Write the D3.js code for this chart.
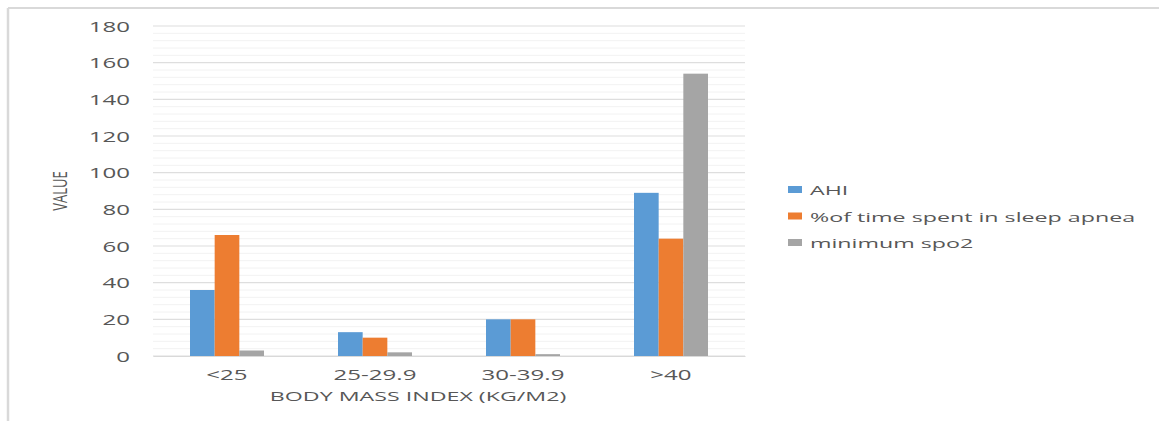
<!DOCTYPE html>
<html><head><meta charset="utf-8">
<script src="https://cdn.jsdelivr.net/npm/d3@7"></script>
<style>body{margin:0;background:#fff}svg{display:block}</style>
</head><body>
<script>
const categories = ["<25", "25-29.9", "30-39.9", ">40"];
const seriesNames = ["AHI", "%of time spent in sleep apnea", "minimum spo2"];
const ahi = [36, 13, 20, 89];
const timeInApnea = [66, 10, 20, 64];
const minSpo2 = [3, 2, 1, 154];
const yTicks = [0, 20, 40, 60, 80, 100, 120, 140, 160, 180];
const colors = ["#5B9BD5", "#ED7D31", "#A5A5A5"];
const seriesValues = [ahi, timeInApnea, minSpo2];

const W = 1159, H = 421;
const margin = {left: 153, right: 414, top: 26, bottom: 65};
const SX = 1.72;
const font = "'Open Sans', sans-serif";
const txt = "#575757";
const svg = d3.select("body").append("svg").attr("width", W).attr("height", H);

// chart border
svg.append("line").attr("x1", 8).attr("x2", W).attr("y1", 8).attr("y2", 8).attr("stroke", "#d9d9d9").attr("stroke-width", 2);
svg.append("line").attr("x1", 8).attr("x2", 8).attr("y1", 8).attr("y2", H).attr("stroke", "#d9d9d9").attr("stroke-width", 2.5);

const x0 = margin.left, x1 = W - margin.right;
const yTop = margin.top, yBot = H - margin.bottom;
const y = d3.scaleLinear().domain([0, 180]).range([yBot, yTop]);
const x = d3.scaleBand().domain(categories).range([x0, x1]).paddingInner(0.5).paddingOuter(0.25);
const xs = d3.scaleBand().domain(seriesNames).range([0, x.bandwidth()]);

// minor gridlines
const minor = d3.range(0, 181, 4).filter(v => v % 20 !== 0);
svg.append("g").selectAll("line").data(minor).join("line")
  .attr("x1", x0).attr("x2", x1).attr("y1", d => y(d)).attr("y2", d => y(d))
  .attr("stroke", "#f2f2f2").attr("stroke-width", 1);
// major gridlines
svg.append("g").selectAll("line").data(yTicks).join("line")
  .attr("x1", x0).attr("x2", x1).attr("y1", d => y(d)).attr("y2", d => y(d))
  .attr("stroke", "#dedede").attr("stroke-width", 1.2);

// y axis
const yAxis = svg.append("g").attr("transform", `translate(${x0},0)`)
  .call(d3.axisLeft(y).tickValues(yTicks).tickSize(0).tickPadding(0));
yAxis.select(".domain").remove();
yAxis.selectAll("text").attr("x", -23 / SX).attr("dy", "0.36em")
  .attr("transform", `scale(${SX},1)`)
  .attr("fill", txt).style("font-family", font).style("font-size", "14px");

// bars
const groups = svg.append("g").selectAll("g").data(categories).join("g")
  .attr("transform", d => `translate(${x(d)},0)`);
groups.selectAll("rect").data((c, i) => seriesNames.map((s, j) => ({s, v: seriesValues[j][i], j})))
  .join("rect")
  .attr("x", d => xs(d.s)).attr("width", xs.bandwidth())
  .attr("y", d => y(d.v)).attr("height", d => y(0) - y(d.v))
  .attr("fill", d => colors[d.j]);

// x axis
const xAxis = svg.append("g").attr("transform", `translate(0,${yBot})`)
  .call(d3.axisBottom(x).tickSize(0).tickPadding(0));
xAxis.select(".domain").attr("stroke", "#d9d9d9").attr("stroke-width", 1.2);
xAxis.selectAll("text").attr("y", 24).attr("dy", 0)
  .attr("transform", `scale(${SX},1)`)
  .attr("fill", txt).style("font-family", font).style("font-size", "14px");

// axis titles
svg.append("text").attr("transform", `translate(418,401) scale(${SX},1)`)
  .attr("text-anchor", "middle").attr("fill", txt)
  .style("font-family", font).style("font-size", "13.5px").text("BODY MASS INDEX (KG/M2)");
svg.append("text").attr("transform", `translate(67,191) scale(1.6,1) rotate(-90)`)
  .attr("text-anchor", "middle").attr("fill", txt)
  .style("font-family", font).style("font-size", "13px").text("VALUE");

// legend
const legend = svg.append("g").attr("transform", "translate(788,190)");
const li = legend.selectAll("g").data(seriesNames).join("g")
  .attr("transform", (d, i) => `translate(0,${i * 26.5})`);
li.append("rect").attr("x", 0).attr("y", -4).attr("width", 14).attr("height", 7)
  .attr("fill", (d, i) => colors[i]);
li.append("text").attr("transform", `translate(22,5) scale(${SX},1)`)
  .attr("fill", txt).style("font-family", font).style("font-size", "13.5px").text(d => d);
</script>
</body></html>
